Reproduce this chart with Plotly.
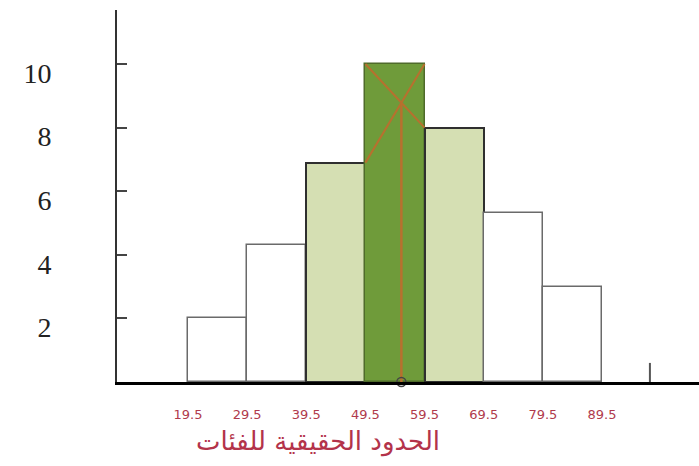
import plotly.graph_objects as go

# Class boundaries (real limits) and frequencies
edges = [19.5, 29.5, 39.5, 49.5, 59.5, 69.5, 79.5, 89.5]
edge_labels = ["19.5", "29.5", "39.5", "49.5", "59.5", "69.5", "79.5", "89.5"]
freqs = [2, 4.3, 6.9, 10, 8, 5.3, 3]
y_ticks = [2, 4, 6, 8, 10]
x_title = "الحدود الحقيقية للفئات"
stray_tick_x = 97.6
stray_tick_h = 0.6

mids = [(a + b) / 2 for a, b in zip(edges[:-1], edges[1:])]
widths = [b - a for a, b in zip(edges[:-1], edges[1:])]

# modal class and neighbours
m = freqs.index(max(freqs))
L, U = edges[m], edges[m + 1]
f0, fm, f2 = freqs[m - 1], freqs[m], freqs[m + 1]
d1, d2 = fm - f0, fm - f2
mode_x = L + (U - L) * d1 / (d1 + d2)
t = (mode_x - L) / (U - L)
mode_y = fm - t * d2

fill = []
line_c = []
line_w = []
for i in range(len(freqs)):
    if i == m:
        fill.append("#6f9b3a"); line_c.append("#4f6b2a"); line_w.append(1.5)
    elif abs(i - m) == 1:
        fill.append("#d5dfb3"); line_c.append("#2f2f2f"); line_w.append(2)
    else:
        fill.append("#ffffff"); line_c.append("#6a6a6a"); line_w.append(1.5)

fig = go.Figure()
fig.add_trace(go.Bar(
    x=mids, y=freqs, width=widths,
    marker=dict(color=fill, line=dict(color=line_c, width=line_w)),
    hoverinfo="skip", showlegend=False,
))
diag_color = "#b8702e"
fig.add_trace(go.Scatter(x=[L, U], y=[fm, f2], mode="lines",
                         line=dict(color=diag_color, width=2), showlegend=False))
fig.add_trace(go.Scatter(x=[U, L], y=[fm, f0], mode="lines",
                         line=dict(color=diag_color, width=2), showlegend=False))
fig.add_trace(go.Scatter(x=[mode_x, mode_x], y=[mode_y, 0], mode="lines",
                         line=dict(color=diag_color, width=2.5), showlegend=False))
fig.add_trace(go.Scatter(x=[mode_x], y=[0], mode="markers",
                         marker=dict(symbol="circle-open", size=9,
                                     color="#444444", line=dict(width=1.5)),
                         cliponaxis=False, showlegend=False))
fig.add_trace(go.Scatter(x=[stray_tick_x, stray_tick_x], y=[0, stray_tick_h],
                         mode="lines", line=dict(color="#555555", width=2),
                         showlegend=False))

fig.update_layout(
    width=699, height=466,
    margin=dict(l=117, r=0, t=10, b=84),
    paper_bgcolor="white", plot_bgcolor="white",
    bargap=0,
    xaxis=dict(
        range=[7.5, 105.9], showgrid=False, zeroline=False,
        showline=True, linecolor="black", linewidth=3,
        tickmode="array", tickvals=edges, ticktext=edge_labels,
        ticks="", ticklabelstandoff=18,
        tickfont=dict(family="DejaVu Sans", size=13, color="#b03a4c"),
    ),
    yaxis=dict(
        range=[0, 11.7], showgrid=False, zeroline=False,
        showline=True, linecolor="#333333", linewidth=2,
        tickmode="array", tickvals=y_ticks,
        ticks="inside", ticklen=10, tickcolor="#444444", tickwidth=1.5,
        ticklabelstandoff=58, ticklabelshift=9,
        tickfont=dict(family="Liberation Serif", size=28, color="#222222"),
    ),
    annotations=[dict(
        text=x_title, xref="paper", yref="paper",
        x=0.345, y=-0.161, xanchor="center", yanchor="middle",
        showarrow=False,
        font=dict(family="DejaVu Sans", size=26, color="#b3334a"),
    )],
)

fig.write_html("out.html",
               config={"displayModeBar": False},
               post_script="document.body.style.margin='0';document.body.style.overflow='hidden';")
